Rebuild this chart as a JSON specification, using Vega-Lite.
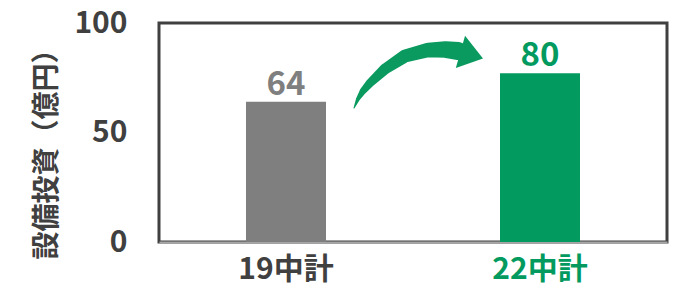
{
  "$schema": "https://vega.github.io/schema/vega-lite/v6.json",
  "width": 508,
  "height": 219,
  "autosize": {"type": "none"},
  "padding": {"left": 159, "top": 23, "right": 17, "bottom": 49},
  "background": "white",
  "config": {
    "font": "Noto Sans CJK JP",
    "view": {"stroke": "#404040", "strokeWidth": 3}
  },
  "datasets": {
    "bars": [
      {"cat": "19中計", "value": 64, "label": "64"},
      {"cat": "22中計", "value": 77, "label": "80"}
    ],
    "arrow": [
      {"o": 1, "ax": 0.3839, "value": 61.19, "w": 1},
      {"o": 2, "ax": 0.3917, "value": 65.30, "w": 4},
      {"o": 3, "ax": 0.4016, "value": 68.95, "w": 6.5},
      {"o": 4, "ax": 0.4154, "value": 72.60, "w": 8.5},
      {"o": 5, "ax": 0.4449, "value": 79.00, "w": 11},
      {"o": 6, "ax": 0.4843, "value": 84.93, "w": 13},
      {"o": 7, "ax": 0.5295, "value": 87.67, "w": 14.5},
      {"o": 8, "ax": 0.5630, "value": 87.90, "w": 16.5},
      {"o": 9, "ax": 0.5886, "value": 87.21, "w": 18}
    ],
    "head": [
      {"ax": 0.6124, "value": 85.53}
    ]
  },
  "layer": [
    {
      "data": {"name": "bars"},
      "encoding": {
        "x": {
          "field": "cat",
          "type": "nominal",
          "sort": ["19中計", "22中計"],
          "scale": {"paddingInner": 0.685, "paddingOuter": 0.3425},
          "axis": {
            "title": null,
            "labelAngle": 0,
            "ticks": false,
            "domain": true,
            "domainColor": "#a6a6a6",
            "domainWidth": 2,
            "labelFontSize": 30,
            "labelFontWeight": "bold",
            "labelPadding": 12,
            "labelColor": {"condition": {"test": "datum.value === '22中計'", "value": "#039a60"}, "value": "#404040"}
          }
        },
        "y": {
          "field": "value",
          "type": "quantitative",
          "scale": {"domain": [0, 100], "nice": false},
          "axis": {
            "values": [0, 50, 100],
            "domain": false,
            "ticks": false,
            "grid": false,
            "labelFontSize": 30,
            "labelFontWeight": "bold",
            "labelColor": "#404040",
            "labelPadding": 32,
            "title": "設備投資（億円）",
            "titleFontSize": 28,
            "titleFontWeight": "bold",
            "titleColor": "#404040",
            "titleAngle": -90,
            "titleBaseline": "middle",
            "titleX": -112,
            "titleY": 124
          }
        }
      },
      "layer": [
        {
          "mark": {"type": "bar"},
          "encoding": {
            "color": {"condition": {"test": "datum.cat === '22中計'", "value": "#039a60"}, "value": "#7f7f7f"}
          }
        },
        {
          "mark": {"type": "text", "baseline": "alphabetic", "dy": -7, "fontSize": 33, "fontWeight": "bold"},
          "encoding": {
            "text": {"field": "label"},
            "color": {"condition": {"test": "datum.cat === '22中計'", "value": "#039a60"}, "value": "#7f7f7f"}
          }
        }
      ]
    },
    {
      "layer": [
        {
          "data": {"name": "arrow"},
          "mark": {"type": "trail", "color": "#0a9a5f"},
          "encoding": {
            "x": {"field": "ax", "type": "quantitative", "scale": {"domain": [0, 1], "nice": false, "zero": false}, "axis": null},
            "y": {"field": "value", "type": "quantitative"},
            "size": {"field": "w", "type": "quantitative", "scale": null, "legend": null},
            "order": {"field": "o"}
          }
        },
        {
          "data": {"name": "head"},
          "mark": {"type": "point", "shape": "M-0.6,-1L0.8,0L-0.6,1Z", "filled": true, "opacity": 1, "color": "#0a9a5f", "size": 1122, "angle": 16},
          "encoding": {
            "x": {"field": "ax", "type": "quantitative", "scale": {"domain": [0, 1], "nice": false, "zero": false}, "axis": null},
            "y": {"field": "value", "type": "quantitative"}
          }
        }
      ]
    }
  ],
  "resolve": {"scale": {"x": "independent"}}
}
